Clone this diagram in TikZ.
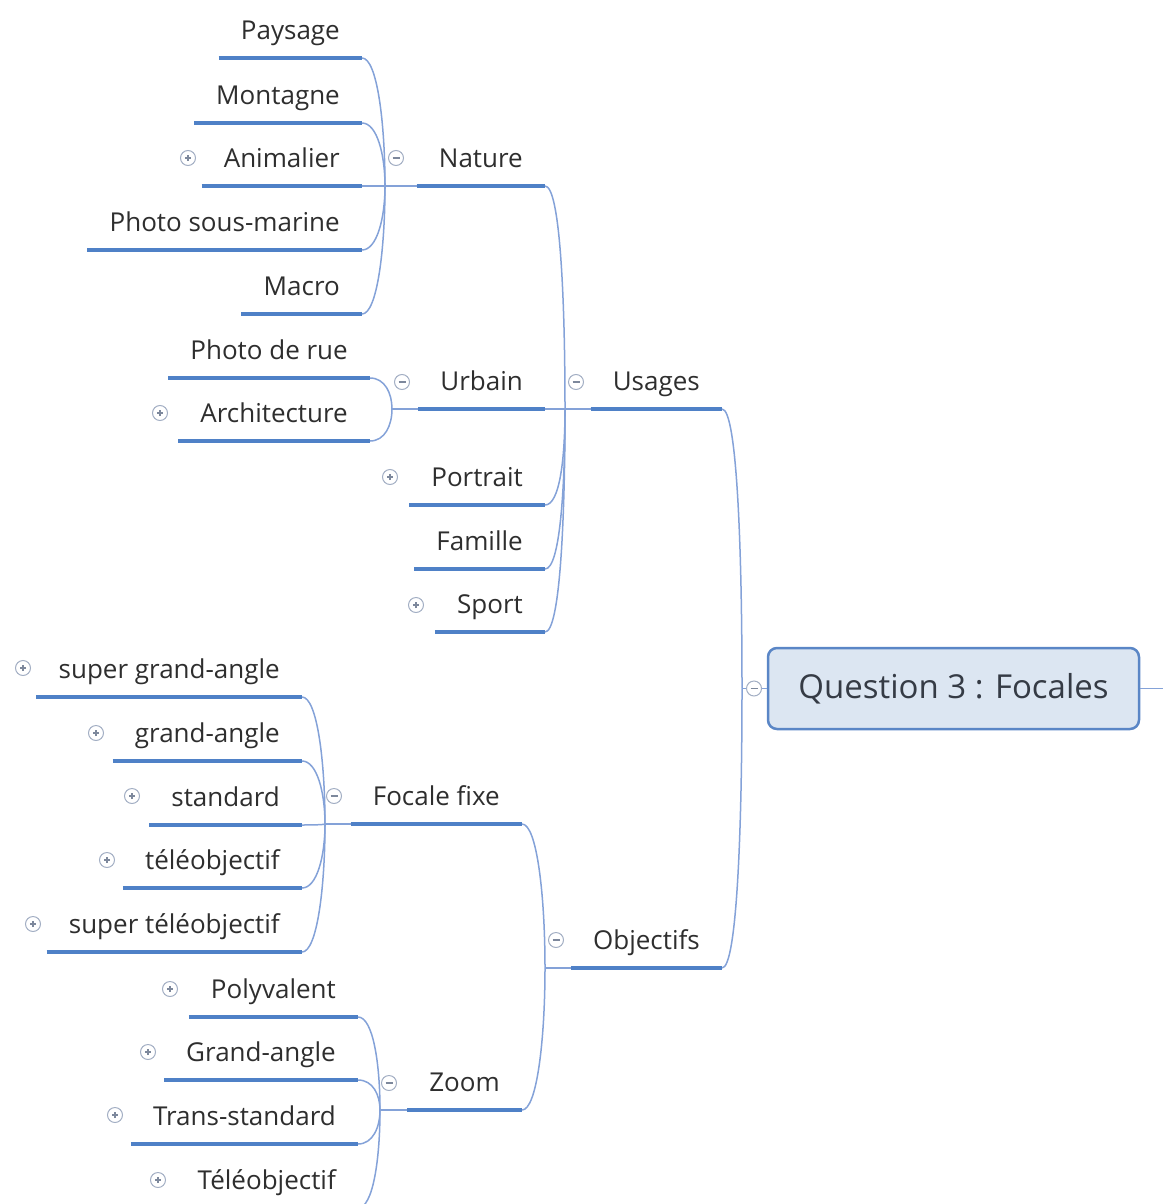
\documentclass[tikz,border=0pt]{standalone}
\usepackage{fontspec}
\setmainfont{Open Sans}
\usetikzlibrary{calc}
\definecolor{ulblue}{HTML}{4F81C7}
\definecolor{cnblue}{HTML}{84A2D8}
\definecolor{txgray}{HTML}{2E2E2E}
\definecolor{icgray}{HTML}{A3AFC4}
\definecolor{icsym}{HTML}{7D889C}
\definecolor{rootfill}{HTML}{DCE6F2}
\definecolor{rootdraw}{HTML}{5A86C6}
\newcommand\mmconn[2]{\draw[cline] (#1.south east) .. controls +(15,0) and ($(#2)!0.5!(#2 |- #1.south east)$) .. (#2);}
\begin{document}
\begin{tikzpicture}[x=1pt,y=-1pt,
  topic/.style={anchor=south east, inner xsep=22pt, inner ysep=0pt, text height=18pt, text depth=18.5pt,
    font=\fontsize{26}{30}\selectfont, text=txgray},
  ulstyle/.style={draw=ulblue, line width=3.7pt},
  cline/.style={draw=cnblue, line width=1.5pt},
  plusicon/.style={circle, draw=icgray, line width=1pt, minimum size=15pt, inner sep=0pt, fill=white,
    path picture={\draw[icsym, line width=1.3pt] ([xshift=-3pt]path picture bounding box.center) -- ([xshift=3pt]path picture bounding box.center);
      \draw[icsym, line width=1.3pt] ([yshift=-3pt]path picture bounding box.center) -- ([yshift=3pt]path picture bounding box.center);}},
  minusicon/.style={circle, draw=icgray, line width=1pt, minimum size=15pt, inner sep=0pt, fill=white,
    path picture={\draw[icsym, line width=1.3pt] ([xshift=-3.5pt]path picture bounding box.center) -- ([xshift=3.5pt]path picture bounding box.center);}},
  rootbox/.style={draw=rootdraw, fill=rootfill, line width=2.5pt, rounded corners=9pt, minimum width=371pt,
    minimum height=81pt, inner sep=0pt, font=\fontsize{33}{38}\selectfont, text=txgray!85!rootdraw}
]
\useasboundingbox (0,0) rectangle (1163,1204);

% root
\node[rootbox] (root) at (953.5,688.5) {Question 3 : Focales};
\coordinate (rootout) at (1163,688.5);

% level 1
\node[topic] (usages) at (722,409) {Usages};
\node[topic] (objectifs) at (722,968) {Objectifs};
\coordinate (jroot) at (742,688.5);

% Usages children
\node[topic] (nature) at (545,186) {Nature};
\node[topic] (urbain) at (545,409) {Urbain};
\node[topic] (portrait) at (545,505) {Portrait};
\node[topic] (famille) at (545,569) {Famille};
\node[topic] (sport) at (545,632) {Sport};
\coordinate (jusa) at (565,409);

% Nature children
\node[topic] (paysage) at (362,58) {Paysage};
\node[topic] (montagne) at (362,123) {Montagne};
\node[topic] (animalier) at (362,186) {Animalier};
\node[topic] (sousmarine) at (362,250) {Photo sous-marine};
\node[topic] (macro) at (362,314) {Macro};
\coordinate (jnat) at (385,186);

% Urbain children
\node[topic] (rue) at (370,378) {Photo de rue};
\node[topic] (archi) at (370,441) {Architecture};
\coordinate (jurb) at (392,409);

% Objectifs children
\node[topic] (fixe) at (522,824) {Focale fixe};
\node[topic] (zoom) at (522,1110) {Zoom};
\coordinate (jobj) at (545,968);

% Focale fixe children
\node[topic] (sga) at (302,697) {super grand-angle};
\node[topic] (ga) at (302,761) {grand-angle};
\node[topic] (std) at (302,825) {standard};
\node[topic] (tele) at (302,888) {téléobjectif};
\node[topic] (stele) at (302,952) {super téléobjectif};
\coordinate (jfix) at (325,824);

% Zoom children
\node[topic] (poly) at (358,1017) {Polyvalent};
\node[topic] (gda) at (358,1080) {Grand-angle};
\node[topic] (trans) at (358,1144) {Trans-standard};
\node[topic] (telez) at (358,1208) {Téléobjectif};
\coordinate (jzoom) at (380,1110);

% connectors
\draw[cline] (root.east) -- (rootout);
\draw[cline] (jroot) -- (root.west);
\mmconn{usages}{jroot}
\mmconn{objectifs}{jroot}
\draw[cline] (jusa) -- (usages.south west);
\foreach \n in {nature,urbain,portrait,famille,sport} {\mmconn{\n}{jusa}}
\draw[cline] (jnat) -- (nature.south west);
\foreach \n in {paysage,montagne,animalier,sousmarine,macro} {\mmconn{\n}{jnat}}
\draw[cline] (jurb) -- (urbain.south west);
\foreach \n in {rue,archi} {\mmconn{\n}{jurb}}
\draw[cline] (jobj) -- (objectifs.south west);
\foreach \n in {fixe,zoom} {\mmconn{\n}{jobj}}
\draw[cline] (jfix) -- (fixe.south west);
\foreach \n in {sga,ga,std,tele,stele} {\mmconn{\n}{jfix}}
\draw[cline] (jzoom) -- (zoom.south west);
\foreach \n in {poly,gda,trans,telez} {\mmconn{\n}{jzoom}}

% underlines
\foreach \n in {usages,objectifs,nature,urbain,portrait,famille,sport,paysage,montagne,animalier,sousmarine,macro,rue,archi,fixe,zoom,sga,ga,std,tele,stele,poly,gda,trans,telez}
  {\draw[ulstyle] (\n.south west) -- (\n.south east);}

% collapse icons
\node[minusicon] (iroot) at (754,688.5) {};
\node[minusicon] (iusages) at (576,382) {};
\node[minusicon] (iobj) at (556,940) {};
\node[minusicon] (inature) at (396,158) {};
\node[minusicon] (iurbain) at (402,382) {};
\node[minusicon] (ifixe) at (334,796) {};
\node[minusicon] (izoom) at (389,1083) {};
% expand icons
\node[plusicon] (ianimalier) at (188,158) {};
\node[plusicon] (iarchi) at (160,413) {};
\node[plusicon] (iportrait) at (390,477) {};
\node[plusicon] (isport) at (416,605) {};
\node[plusicon] (isga) at (23,668) {};
\node[plusicon] (iga) at (96,733) {};
\node[plusicon] (istd) at (132,796) {};
\node[plusicon] (itele) at (107,860) {};
\node[plusicon] (istele) at (33,924) {};
\node[plusicon] (ipoly) at (170,989) {};
\node[plusicon] (igda) at (148,1052) {};
\node[plusicon] (itrans) at (115,1115) {};
\node[plusicon] (itelez) at (158,1180) {};
\end{tikzpicture}
\end{document}
